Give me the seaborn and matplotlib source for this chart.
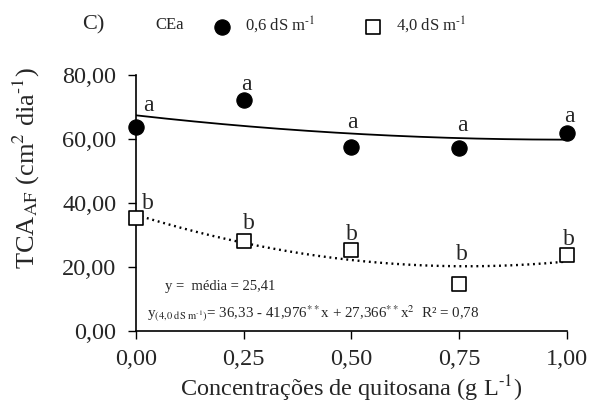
import matplotlib
matplotlib.use("Agg")
import matplotlib.pyplot as plt
import seaborn as sns
import numpy as np
import pandas as pd

# ---- data ----
conc = [0.00, 0.25, 0.50, 0.75, 1.00]
cea_06 = [63.8, 72.1, 57.4, 57.2, 61.8]
cea_40 = [35.2, 28.0, 25.4, 14.7, 23.8]
letters_06 = ["a", "a", "a", "a", "a"]
letters_40 = ["b", "b", "b", "b", "b"]
fit_06_coef = [67.4, -15.2, 7.6]          # estimated from the curve
fit_40_coef = [36.33, -41.976, 27.366]    # from the printed equation
xticks = [0.00, 0.25, 0.50, 0.75, 1.00]
yticks = [0, 20, 40, 60, 80]

sns.set_style("ticks")
plt.rcParams["font.family"] = ["Liberation Serif", "DejaVu Serif"]
plt.rcParams["mathtext.fontset"] = "stix"

fig = plt.figure(figsize=(5.9, 4.05), dpi=100)
ax = fig.add_axes([0.2305, 0.1827, 0.961 - 0.2305, 0.8148 - 0.1827])

df = pd.DataFrame({"x": conc, "y06": cea_06, "y40": cea_40})
xs = np.linspace(0, 1, 200)
fit06 = fit_06_coef[0] + fit_06_coef[1] * xs + fit_06_coef[2] * xs ** 2
fit40 = fit_40_coef[0] + fit_40_coef[1] * xs + fit_40_coef[2] * xs ** 2
dfit = pd.DataFrame({"x": xs, "f06": fit06, "f40": fit40})

sns.lineplot(data=dfit, x="x", y="f06", ax=ax, color="black", lw=1.3)
sns.lineplot(data=dfit, x="x", y="f40", ax=ax, color="black", lw=1.7,
             linestyle=(0, (0.8, 1.6)))
sns.scatterplot(data=df, x="x", y="y06", ax=ax, marker="o", s=120,
                color="black", edgecolor="black", clip_on=False, zorder=5,
                label="0,6 dS m$^{\\text{-}1}$")
sns.scatterplot(data=df, x="x", y="y40", ax=ax, marker="s", s=110,
                facecolor="white", edgecolor="black", linewidth=1.2,
                clip_on=False, zorder=5, label="4,0 dS m$^{\\text{-}1}$")

# letters
pos06 = [(0.028, 70.6), (0.255, 76.9), (0.501, 65.2), (0.757, 64.3), (1.005, 67.1)]
pos40 = [(0.028, 40.0), (0.262, 33.7), (0.501, 30.2), (0.757, 23.9), (1.005, 28.7)]
for (px, py), t in zip(pos06, letters_06):
    ax.text(px, py, t, ha="center", va="center", fontsize=17)
for (px, py), t in zip(pos40, letters_40):
    ax.text(px, py, t, ha="center", va="center", fontsize=17)

ax.set_xlim(0, 1)
ax.set_ylim(0, 80)
ax.set_xticks(xticks)
ax.set_xticklabels([f"{v:.2f}".replace(".", ",") for v in xticks])
ax.set_yticks(yticks)
ax.set_yticklabels([f"{v:.2f}".replace(".", ",") for v in yticks])
ax.tick_params(labelsize=17.5, length=6, width=1, color="black")
ax.tick_params(axis="y", pad=8)
ax.tick_params(axis="x", pad=7)
for s in ["left", "bottom"]:
    ax.spines[s].set_color("black")
    ax.spines[s].set_linewidth(1.2)
sns.despine(ax=ax)

ax.set_xlabel("Concentrações de quitosana (g L$^{\\text{-}1}$)", fontsize=17.5)
ax.set_ylabel("TCA$_{\\mathrm{AF}}$ (cm$^{2}$ dia$^{\\text{-}1}$)", fontsize=19)
ax.xaxis.set_label_coords(0.5, -(374 - 331) / 256)
ax.yaxis.set_label_coords(-(136 - 42) / 431, (331 - 168) / 256)

# equations
ax.text(0.068, 14.0, "y =  média = 25,41", fontsize=10.5, va="center")
ax.text(0.026, 5.4,
        "y$_{(4{,}0\\ \\mathrm{dS\\ m^{\\text{-}1}})}$= 36,33 - 41,976$^{**}$x + 27,366$^{**}$x$^{2}$  R² = 0,78",
        fontsize=10.8, va="center")

# legend
if ax.legend_:
    ax.legend_.remove()
h, l = ax.get_legend_handles_labels()
fig.legend(h, l, loc="center left", bbox_to_anchor=(0.337, 1 - 25 / 405), ncol=2,
           frameon=False, fontsize=12, handletextpad=0.4, columnspacing=2.4,
           markerscale=1.0, borderaxespad=0)
fig.text(82 / 590, 1 - 25 / 405, "C)", fontsize=16, va="center")
fig.text(155 / 590, 1 - 25 / 405, "CEa", fontsize=12, va="center")

fig.savefig("out.png", dpi=100)
